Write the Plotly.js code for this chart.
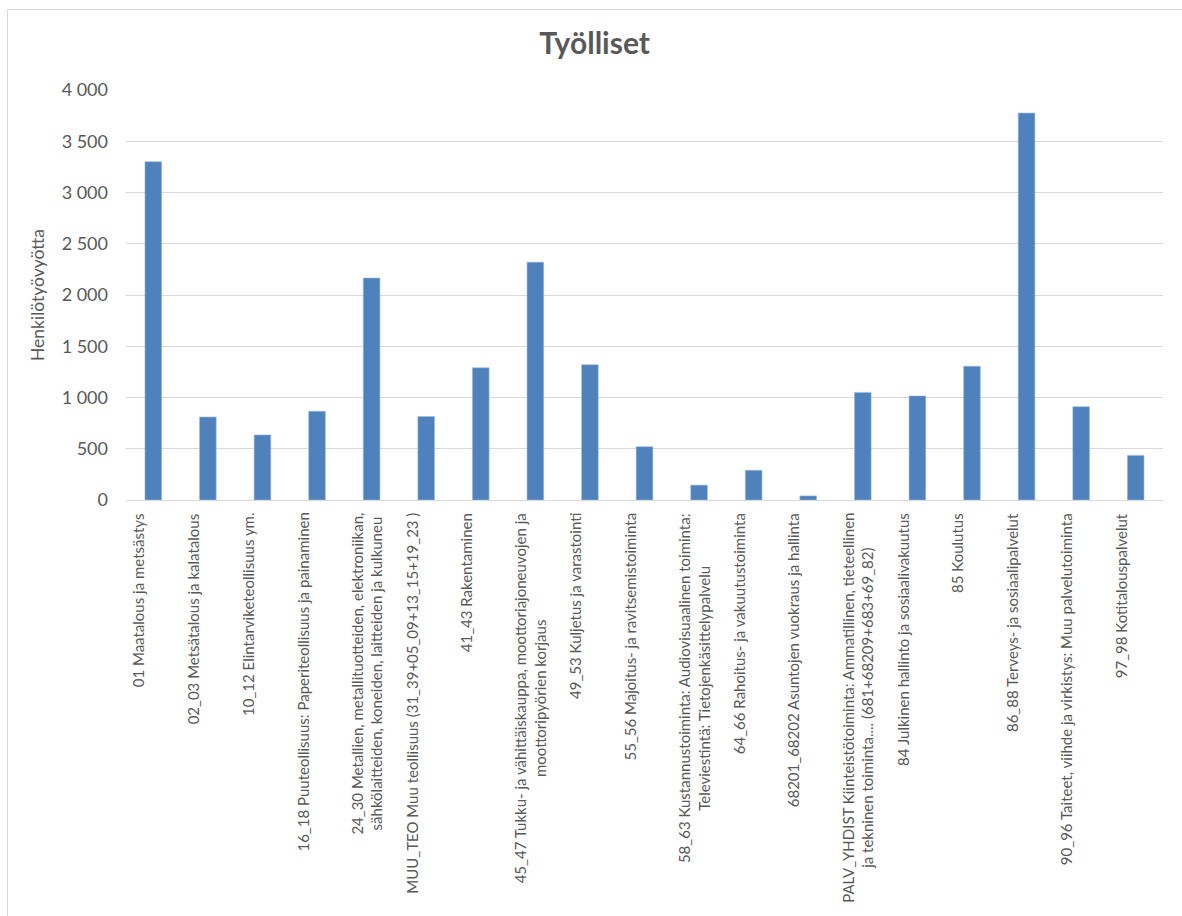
<!DOCTYPE html>
<html>
<head>
<meta charset="utf-8">
<script src="https://cdn.plot.ly/plotly-3.0.1.min.js"></script>
<style>
  html, body { margin: 0; padding: 0; background: #ffffff; }
  #frame { position: absolute; left: 7px; top: 9px; width: 1400px; height: 1100px;
           border-left: 1px solid #d9d9d9; border-top: 1px solid #d9d9d9; }
  #chart { position: absolute; left: 0; top: 0; width: 1182px; height: 916px; }
</style>
</head>
<body>
<div id="frame"></div>
<div id="chart"></div>
<script>
const categories = [
  "01 Maatalous ja metsästys",
  "02_03 Metsätalous ja kalatalous",
  "10_12 Elintarviketeollisuus ym.",
  "16_18 Puuteollisuus: Paperiteollisuus ja painaminen",
  "24_30 Metallien, metallituotteiden, elektroniikan,<br>sähkölaitteiden, koneiden, laitteiden ja kulkuneu",
  "MUU_TEO Muu teollisuus (31_39+05_09+13_15+19_23 )",
  "41_43 Rakentaminen",
  "45_47 Tukku- ja vähittäiskauppa, moottoriajoneuvojen ja<br>moottoripyörien korjaus",
  "49_53 Kuljetus ja varastointi",
  "55_56 Majoitus- ja ravitsemistoiminta",
  "58_63 Kustannustoiminta: Audiovisuaalinen toiminta:<br>Televiestintä: Tietojenkäsittelypalvelu",
  "64_66 Rahoitus- ja vakuutustoiminta",
  "68201_68202 Asuntojen vuokraus ja hallinta",
  "PALV_YHDIST Kiinteistötoiminta: Ammatillinen, tieteellinen<br>ja tekninen toiminta.... (681+68209+683+69_82)",
  "84 Julkinen hallinto ja sosiaalivakuutus",
  "85 Koulutus",
  "86_88 Terveys- ja sosiaalipalvelut",
  "90_96 Taiteet, viihde ja virkistys: Muu palvelutoiminta",
  "97_98 Kotitalouspalvelut"
];
const values = [3300, 810, 635, 865, 2165, 815, 1290, 2320, 1320, 520, 145, 290, 40, 1050, 1015, 1305, 3775, 910, 435];
const yTickValues = [0, 500, 1000, 1500, 2000, 2500, 3000, 3500, 4000];

const titleText = "Työlliset";
const yTitleText = "Henkilötyövyötta";

const textColor = "#595959";
const fontFamily = "Lato, 'Open Sans', sans-serif";

const xIdx = categories.map((c, i) => i);

const trace = {
  type: "bar",
  x: xIdx,
  y: values,
  marker: { color: "#4f81bd", line: { width: 0.6, color: "#9db8dc" } },
  hoverinfo: "skip"
};

const annotations = categories.map((c, i) => ({
  x: i, xref: "x",
  y: 0, yref: "y",
  text: c,
  textangle: -90,
  showarrow: false,
  xanchor: "left",
  yanchor: "top",
  align: "center",
  xshift: -26,
  yshift: -11,
  font: { family: fontFamily, size: 15, color: textColor }
}));

const layout = {
  width: 1182,
  height: 916,
  paper_bgcolor: "rgba(0,0,0,0)",
  plot_bgcolor: "rgba(0,0,0,0)",
  margin: { l: 126, r: 19, t: 90, b: 416, pad: 0 },
  separators: ", ",
  showlegend: false,
  bargap: 0.695,
  title: {
    text: "<b>" + titleText + "</b>",
    x: 0.503, xanchor: "center",
    y: 0.952, yanchor: "middle",
    font: { family: fontFamily, size: 30, color: textColor }
  },
  xaxis: {
    range: [-0.5, categories.length - 0.5],
    showticklabels: false,
    ticks: "",
    showgrid: false,
    zeroline: false,
    showline: false,
    fixedrange: true
  },
  yaxis: {
    range: [0, 4000],
    tickvals: yTickValues,
    tickformat: ",d",
    ticks: "",
    ticklabelstandoff: 17,
    showgrid: true,
    gridcolor: "#d9d9d9",
    gridwidth: 1,
    zeroline: true,
    zerolinecolor: "#d9d9d9",
    zerolinewidth: 1,
    showline: false,
    tickfont: { family: fontFamily, size: 18, color: textColor },
    title: {
      text: yTitleText,
      standoff: 12,
      font: { family: fontFamily, size: 17.5, color: textColor }
    },
    fixedrange: true
  },
  annotations: annotations
};

Plotly.newPlot("chart", [trace], layout, { displayModeBar: false, staticPlot: true });
</script>
</body>
</html>
